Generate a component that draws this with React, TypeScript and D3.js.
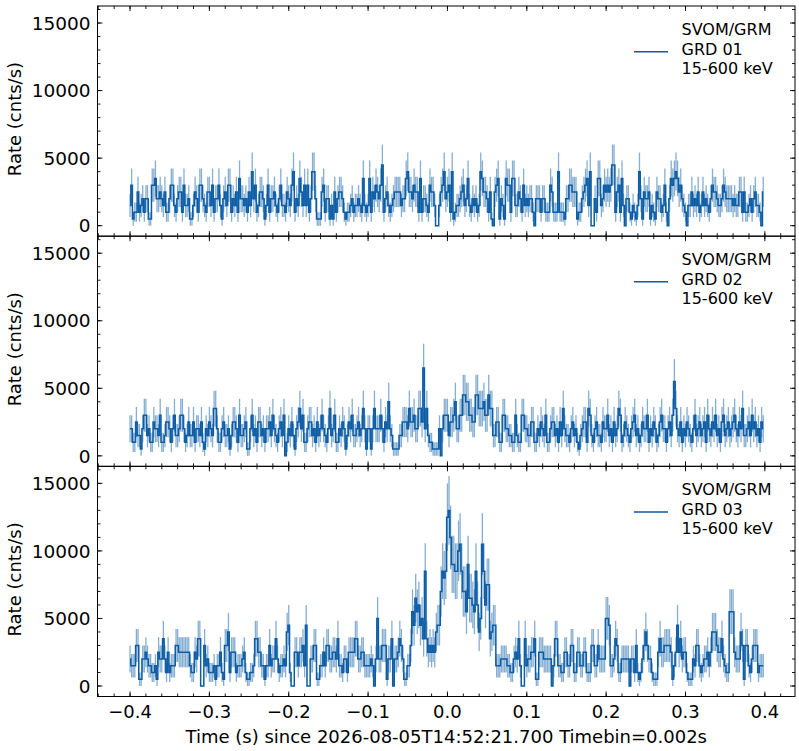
import * as d3 from 'd3';

// GRM light curves, counts per 2 ms bin, bins start at -0.4 s
const TIME_START = -0.4;
const TIMEBIN = 0.002;

const grd01Counts = [
  3, 6, 1, 2, 2, 5, 2, 3, 4, 2, 4, 4, 1, 1, 6, 6, 7, 4, 4, 5, 4, 3, 5,
  2, 2, 4, 6, 6, 3, 2, 4, 5, 5, 2, 6, 3, 3, 4, 1, 1, 3, 5, 4,
  2, 6, 6, 4, 3, 2, 5, 5, 3, 6, 2, 4, 4, 6, 3, 1, 4, 5, 3, 6,
  6, 2, 4, 3, 5, 2, 7, 4, 4, 3, 4, 2, 5, 3, 8, 4, 6, 2, 3, 5,
  5, 4, 1, 3, 6, 2, 4, 4, 5, 3, 2, 4, 6, 3, 3, 2, 5, 4, 3, 6,
  8, 2, 4, 3,
  7, 5, 3, 6, 3, 6, 2, 4, 8, 8, 4, 1, 1, 1, 5, 6, 2, 4, 4, 1,
  3, 1, 5, 2, 4, 5, 5, 4, 2, 1, 2, 2, 3, 4, 2, 3, 3, 4, 3, 2,
  7, 3, 2, 3, 7, 2, 5, 4, 6, 5, 4, 6, 9, 2, 4, 5, 3, 2, 3, 4,
  5, 5, 5, 5, 3, 4, 4, 7, 8, 5, 5, 4, 6, 5, 5, 2, 7, 2, 4, 4,
  3, 2, 6, 5, 5, 3, 0, 0, 3, 5, 6, 8, 4, 5, 6, 2, 8, 1, 2, 3,
  3, 4, 5, 6, 3, 4, 7, 3, 2, 4, 3, 4, 2, 3, 8, 7, 5, 5, 4, 2,
  5, 1, 0, 5, 6, 7, 1, 4, 3, 1, 7, 6, 6, 2, 7, 7, 3, 3, 5, 4,
  2, 6, 3, 4, 3,
  4, 4, 2, 0, 4, 4, 4, 2, 4, 4, 2, 2, 2, 6, 5, 2, 2, 2, 8, 2,
  2, 2, 1, 4, 4, 6, 6, 5, 5, 5, 1, 2, 2, 4, 5, 6, 7, 3, 8, 0,
  0, 4, 2, 7, 7, 3, 4, 6, 5, 6, 5, 6, 9, 9, 2, 5, 6, 2, 7, 3,
  0, 4, 4, 2, 1, 3, 2, 1, 3, 8, 4, 1, 5, 4, 4, 5, 1, 3, 2, 1,
  5, 4, 4, 2, 3, 6, 2, 0, 4, 7, 6, 7, 8, 7, 5, 6, 4, 3, 2, 0,
  3, 3, 5, 3, 4, 3, 5, 2, 3, 5, 3, 4, 3, 2, 4, 6, 5, 5, 4, 3,
  3, 4, 6, 5, 4, 4, 4, 4, 3, 4, 3, 3, 5, 5, 2, 5, 2, 2, 3, 4,
  2, 4, 5, 3, 3, 2, 0, 5,
];

const grd02Counts = [
  4, 4, 2, 2, 5, 3, 3, 1, 4, 6, 6, 3, 4, 2, 2, 5, 4, 4, 3, 6,
  2, 2, 3, 5, 5, 4, 2, 4, 6, 3, 3, 4, 6, 6, 4, 2, 3, 5, 3, 3,
  5, 2, 4, 4, 3, 5, 2, 1, 4, 3, 5, 4, 3, 7, 7, 4, 2, 2, 4, 5,
  3, 3, 4, 1, 3, 5, 5, 4, 2, 6, 3, 3, 4, 5, 1, 1, 4, 6, 3, 4,
  2, 5, 5, 3, 4, 2, 4, 4, 5, 3, 6, 4, 3, 2, 4, 5, 3, 6, 0, 2,
  4, 3, 5, 3, 1, 4, 5, 7, 4, 6, 2, 2, 4, 5, 5, 3, 4, 2, 5, 3,
  4, 6, 4, 3, 2, 4, 7, 3, 4, 6, 2, 2, 4, 3, 5, 4, 1, 3, 5, 4,
  6, 3, 3, 4, 5, 3, 4, 7, 4, 1, 4,
  4, 1, 4, 7, 4, 4, 4, 6, 4,
  2, 5, 4, 8, 4, 3, 1, 1, 1, 1, 3, 3, 5, 5, 5, 4, 7, 5, 5, 6,
  4, 4, 7, 7, 5, 13, 4, 7, 3, 2, 2, 1, 1, 1, 1, 4, 0, 4, 6, 6,
  6, 3, 5, 5, 6, 8, 4, 4, 6, 6, 9, 9, 8, 8, 6, 6, 5, 5, 9, 9,
  7, 7, 7, 8, 6, 6, 9, 7, 7, 3, 3, 5, 5, 2, 2, 6, 6, 4, 4, 3,
  3, 2, 2, 6, 3, 2, 2, 6, 6, 4, 4, 3, 3, 5, 5, 2, 2, 4, 3, 5,
  4, 3, 6, 2, 2, 4, 5, 5, 3, 4, 2, 5, 3, 7, 4, 3, 3, 2, 4, 5,
  3, 4, 2, 1, 3, 4, 5, 5, 2, 7, 6, 3, 2, 4, 5, 3, 3, 2, 5, 4,
  4, 6, 3, 4, 2, 5, 3, 4, 7, 6, 2, 3, 5, 4, 3, 2, 4, 5, 6, 3,
  4, 2, 3, 5, 4, 4, 6, 2, 4, 3, 5, 4, 2, 3, 5, 6, 4, 4, 2, 4,
  5, 3, 6, 11, 7, 4, 3, 5, 2, 4, 3, 5, 4, 3, 2, 4, 6, 3, 4, 5,
  3, 4, 5, 2, 6, 4, 3, 5, 4, 6, 3, 4, 2, 5, 6, 3, 4, 5, 3, 4,
  5, 6, 4, 3, 5, 4, 7, 3, 3, 4, 5, 3, 6, 4, 5, 3, 4, 2, 5, 4,
];

const grd03Counts = [
  4, 3, 3, 3, 6, 6, 1, 1, 4, 4, 5, 4, 3, 3, 2, 2, 3, 1, 5, 4,
  4, 7, 4, 2, 5, 2, 3, 3, 3, 6, 6, 5, 5, 5, 5, 5, 5, 5, 3, 2,
  2, 5, 4, 7, 7, 0, 0, 6, 3, 4, 2, 2, 2, 3, 1, 3, 3, 5, 2, 1,
  6, 6, 8, 2, 5, 5, 5, 2, 3, 3, 3, 4, 5, 2, 1, 1, 2, 2, 3, 7,
  7, 5, 5, 3, 3, 1, 3, 3, 6, 3, 4, 4, 7, 4, 2, 3, 3, 4, 3, 8,
  9, 2, 0, 0, 5, 5, 3, 5, 5, 6, 3, 9, 0, 0, 4, 4, 6, 6, 1, 1,
  3, 3, 5, 3, 6, 6, 4, 4, 5, 5, 4, 7, 3, 3, 2, 4, 4, 2, 5, 5,
  5, 5, 7, 7, 4, 4, 5, 5, 3, 3, 3, 3, 4, 3, 0, 4, 10, 4, 4, 6,
  6, 6, 1, 4, 4, 7, 0, 4, 4, 5, 7, 6, 4, 1, 1, 3, 3, 6, 11, 9,
  13, 11, 12, 9, 10, 7, 17, 7, 5, 6, 5, 6, 5, 8, 9, 9, 14, 17, 16, 17,
  25, 26, 22, 18, 18, 17, 17, 20, 21, 17, 14, 14, 11, 18, 13, 13, 12, 11, 17, 12,
  8, 10, 21, 17, 12, 15, 15, 7, 8, 9, 9, 3, 3, 3, 4, 4, 4, 4, 3, 3,
  2, 2, 4, 5, 4, 7, 3, 0, 0, 7, 3, 4, 4, 5, 5, 7, 1, 1, 5, 5,
  5, 4, 4, 4, 4, 4, 0, 3, 7, 7, 3, 3, 2, 2, 5, 5, 3, 3, 6, 6,
  2, 2, 5, 5, 3, 3, 5, 5, 2, 2, 2, 6, 6, 3, 3, 6, 4, 4, 4, 4,
  10, 10, 9, 3, 3, 4, 7, 6, 2, 2, 4, 4, 4, 4, 4, 0, 4, 4, 2, 6,
  2, 1, 2, 4, 6, 8, 6, 4, 4, 2, 1, 1, 1, 5, 7, 5, 5, 6, 6, 6,
  6, 5, 1, 3, 5, 9, 5, 7, 4, 5, 5, 2, 1, 1, 1, 4, 3, 6, 6, 3,
  2, 3, 4, 4, 5, 3, 5, 8, 8, 8, 6, 5, 5, 7, 4, 3, 2, 2, 11, 11,
  11, 5, 4, 4, 4, 8, 6, 1, 6, 6, 3, 2, 4, 6, 6, 6, 2, 3, 3, 3,
];

const detectorNames = ['GRD 01', 'GRD 02', 'GRD 03'];
const detectorCounts = [grd01Counts, grd02Counts, grd03Counts];
const instrumentLabel = 'SVOM/GRM';
const energyLabel = '15-600 keV';
const xTickValues = [-0.4, -0.3, -0.2, -0.1, 0.0, 0.1, 0.2, 0.3, 0.4];
const yTickValues = [0, 5000, 10000, 15000];
const xLabel = 'Time (s) since 2026-08-05T14:52:21.700 Timebin=0.002s';
const yLabel = 'Rate (cnts/s)';

const W = 799;
const H = 751;
const margin = { top: 6, right: 4, bottom: 54.5, left: 97.5 };
const panelH = (H - margin.top - margin.bottom) / 3;
const COLOR = '#0C5DA5';
const FONT = 'DejaVu Sans, sans-serif';

const x = d3.scaleLinear().domain([-0.441, 0.438]).range([margin.left, W - margin.right]);
const xMinor = d3.range(-44, 45, 2).map((v) => v / 100).filter((v) => v >= -0.441 && v <= 0.438);
const xFmt = d3.format('.1f');

type P = { idx: number };

function Panel({ idx }: P) {
  const top = margin.top + idx * panelH;
  const bottom = top + panelH;
  const y = d3.scaleLinear().domain([-776, 16260]).range([bottom, top]);
  const yMinor = d3.range(0, 16001, 1000);
  const counts = detectorCounts[idx];
  const pts = counts.map((c, i) => ({
    t: TIME_START + i * TIMEBIN,
    rate: c / TIMEBIN,
    err: Math.sqrt(c) / TIMEBIN,
  }));
  const line = d3
    .line<(typeof pts)[number]>()
    .x((d) => x(d.t))
    .y((d) => y(d.rate))
    .curve(d3.curveStep);

  const left = margin.left;
  const right = W - margin.right;
  const isLast = idx === 2;

  return (
    <g>
      {/* error bars */}
      <g stroke={COLOR} strokeOpacity={0.5} strokeWidth={1.3}>
        {pts
          .filter((d) => d.err > 0)
          .map((d, i) => (
            <line key={i} x1={x(d.t)} x2={x(d.t)} y1={y(d.rate - d.err)} y2={y(d.rate + d.err)} />
          ))}
      </g>
      <path d={line(pts) ?? ''} fill="none" stroke={COLOR} strokeWidth={1.5} />

      {/* frame */}
      <rect x={left} y={top} width={right - left} height={panelH} fill="none" stroke="#000" strokeWidth={1} />

      {/* ticks point inward on all four sides */}
      <g stroke="#000" strokeWidth={0.9}>
        {xTickValues.map((v) => (
          <g key={v}>
            <line x1={x(v)} x2={x(v)} y1={bottom} y2={bottom - 5} />
            <line x1={x(v)} x2={x(v)} y1={top} y2={top + 5} />
          </g>
        ))}
        {xMinor.map((v) => (
          <g key={'m' + v}>
            <line x1={x(v)} x2={x(v)} y1={bottom} y2={bottom - 3} />
            <line x1={x(v)} x2={x(v)} y1={top} y2={top + 3} />
          </g>
        ))}
        {yTickValues.map((v) => (
          <g key={'y' + v}>
            <line x1={left} x2={left + 5} y1={y(v)} y2={y(v)} />
            <line x1={right} x2={right - 5} y1={y(v)} y2={y(v)} />
          </g>
        ))}
        {yMinor.map((v) => (
          <g key={'ym' + v}>
            <line x1={left} x2={left + 3} y1={y(v)} y2={y(v)} />
            <line x1={right} x2={right - 3} y1={y(v)} y2={y(v)} />
          </g>
        ))}
      </g>

      {yTickValues.map((v) => (
        <text key={'yl' + v} x={left - 7} y={y(v)} dy="0.36em" textAnchor="end" fontSize={18.5} fontFamily={FONT}>
          {v}
        </text>
      ))}

      {/* x tick labels only on the bottom panel */}
      {isLast &&
        xTickValues.map((v) => (
          <text key={'xl' + v} x={x(v)} y={bottom + 21.5} textAnchor="middle" fontSize={18} fontFamily={FONT}>
            {xFmt(v)}
          </text>
        ))}

      <text
        transform={`translate(21,${(top + bottom) / 2 - 2}) rotate(-90)`}
        textAnchor="middle"
        fontSize={18}
        fontFamily={FONT}
      >
        {yLabel}
      </text>

      {/* legend */}
      <line x1={634} x2={668} y1={top + 45.7} y2={top + 45.7} stroke={COLOR} strokeWidth={1.5} />
      <g fontSize={16} fontFamily={FONT}>
        <text x={681.5} y={top + 29}>{instrumentLabel}</text>
        <text x={681.5} y={top + 48.5}>{detectorNames[idx]}</text>
        <text x={681.5} y={top + 68}>{energyLabel}</text>
      </g>
    </g>
  );
}

export default function App() {
  return (
    <svg
      width={W}
      height={H}
      viewBox={`0 0 ${W} ${H}`}
      style={{ position: 'absolute', left: 0, top: 0, background: '#fff' }}
    >
      <rect width={W} height={H} fill="#fff" />
      {detectorNames.map((_, i) => (
        <Panel key={i} idx={i} />
      ))}
      <text x={(margin.left + W - margin.right) / 2} y={743} textAnchor="middle" fontSize={18} fontFamily={FONT}>
        {xLabel}
      </text>
    </svg>
  );
}
